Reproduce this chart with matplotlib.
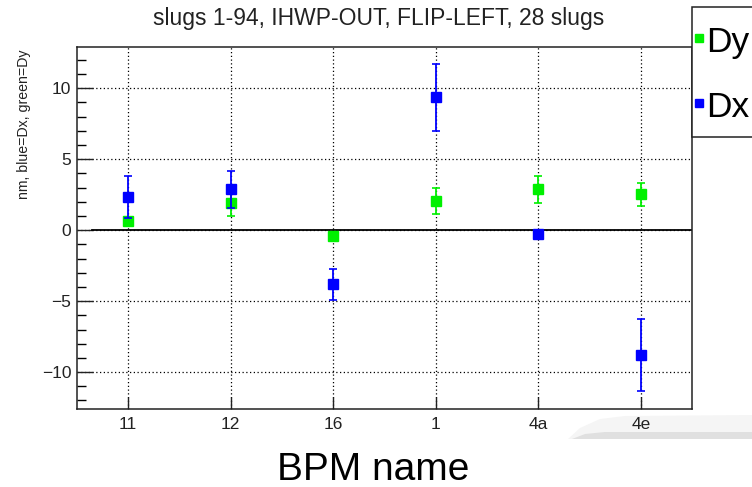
import matplotlib
matplotlib.use("Agg")
import matplotlib.pyplot as plt
from matplotlib.patches import Rectangle, Polygon
from matplotlib.lines import Line2D

plt.rcParams['font.family'] = ['Liberation Sans', 'DejaVu Sans']

bpm_names = ["11", "12", "16", "1", "4a", "4e"]
dx_values = [2.32, 2.87, -3.81, 9.36, -0.3, -8.77]
dx_errors = [1.49, 1.3, 1.08, 2.35, 0.3, 2.53]
dy_values = [0.64, 1.88, -0.4, 2.05, 2.87, 2.52]
dy_errors = [0.3, 0.9, 0.2, 0.94, 0.97, 0.8]

title = "slugs 1-94, IHWP-OUT, FLIP-LEFT, 28 slugs"
ylabel = "nm, blue=Dx, green=Dy"
xlabel = "BPM name"

BLUE = "#0000ff"
GREEN = "#00f000"
W, H = 752, 487

def fx(px):
    return px / W

def fy(py):
    return 1 - py / H

fig = plt.figure(figsize=(7.52, 4.87), dpi=100)

# faint slide decoration at bottom right
light = Polygon([(fx(568), fy(439)), (fx(580), fy(428)), (fx(600), fy(419)),
                 (fx(625), fy(416)), (fx(752), fy(415)), (fx(752), fy(439))],
                closed=True, transform=fig.transFigure, facecolor='#f5f5f5',
                edgecolor='none', zorder=-2)
dark = Polygon([(fx(572), fy(439)), (fx(585), fy(434)), (fx(605), fy(432)),
                (fx(752), fy(432)), (fx(752), fy(439))],
               closed=True, transform=fig.transFigure, facecolor='#e0e0e0',
               edgecolor='none', zorder=-1)
fig.add_artist(light)
fig.add_artist(dark)

ax = fig.add_axes([fx(77), fy(409), 615 / W, 362 / H])
ax.patch.set_alpha(0)

x = list(range(len(bpm_names)))
ax.errorbar(x, dy_values, yerr=dy_errors, fmt='s', color=GREEN, ms=7.5,
            elinewidth=1.3, capsize=3, capthick=1.2, zorder=3)
ax.errorbar(x, dx_values, yerr=dx_errors, fmt='s', color=BLUE, ms=7.5,
            elinewidth=1.3, capsize=3, capthick=1.2, zorder=4)

ax.set_xlim(-0.5, len(bpm_names) - 0.5)
ax.set_ylim(-12.6, 12.9)
ax.set_xticks(x)
ax.set_xticklabels(bpm_names)
ax.set_yticks([-10, -5, 0, 5, 10])
ax.set_yticks(range(-12, 13), minor=True)
ax.grid(True, which='major', color='black', linestyle=(0, (1, 2)), linewidth=0.9)
ax.axhline(0, xmin=15 / 615, xmax=1, color='black', linewidth=1.3, zorder=2)

ax.tick_params(axis='y', which='major', direction='in', length=11.5, width=1.0,
               labelsize=12.5, colors='#222222', pad=4)
ax.tick_params(axis='y', which='minor', direction='in', length=6.5, width=1.0)
ax.tick_params(axis='x', which='major', direction='in', length=8.5, width=1.0,
               labelsize=12.5, colors='#222222', pad=6)
ax.tick_params(axis='x', which='minor', bottom=False)
for s in ax.spines.values():
    s.set_linewidth(1.1)
    s.set_color('#222222')

fig.text(fx(379), fy(18), title, ha='center', va='center', fontsize=16.5, color='#222222')
fig.text(fx(24), fy(124.5), ylabel, ha='center', va='center', rotation=90,
         fontsize=10.2, color='#222222')
fig.text(fx(373), fy(480), xlabel, ha='center', va='baseline', fontsize=28, color='black')

# Legend box (extends past the right edge, as in the reference)
leg = Rectangle((fx(692), fy(137)), 80 / W, 130 / H, transform=fig.transFigure,
                facecolor='white', edgecolor='#222222', linewidth=1.1, zorder=10)
fig.add_artist(leg)
fig.add_artist(Line2D([fx(699)], [fy(38)], marker='s', color=GREEN, ms=6,
                      transform=fig.transFigure, zorder=11))
fig.add_artist(Line2D([fx(699)], [fy(103)], marker='s', color=BLUE, ms=6,
                      transform=fig.transFigure, zorder=11))
fig.text(fx(706), fy(52), "Dy", ha='left', va='baseline', fontsize=25.5, color='black', zorder=12)
fig.text(fx(706), fy(117), "Dx", ha='left', va='baseline', fontsize=25.5, color='black', zorder=12)

fig.savefig("out.png", dpi=100)
